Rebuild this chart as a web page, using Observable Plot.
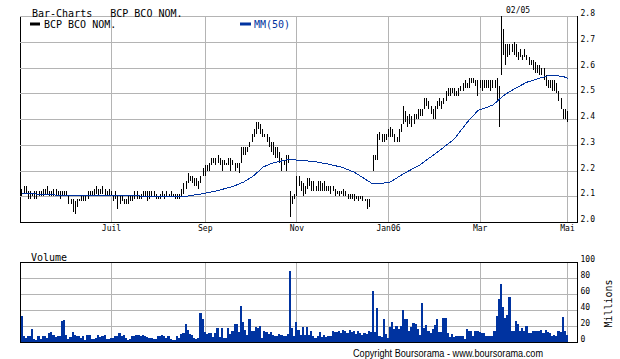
<!DOCTYPE html>
<html><head><meta charset="utf-8">
<script src="https://cdn.jsdelivr.net/npm/d3@7"></script>
<script src="https://cdn.jsdelivr.net/npm/@observablehq/plot@0.6"></script>
<style>
body{margin:0;background:#fff;}
#wrap{position:relative;width:620px;height:359px;overflow:hidden;background:#fff;}
#wrap svg{position:absolute;left:0;}
</style></head><body><div id="wrap"></div>
<script>
// ---- data ----
const high = [
2.13,2.14,2.14,2.12,2.12,2.11,2.12,2.12,2.12,2.12,
2.13,2.13,2.14,2.12,2.12,2.13,2.13,2.12,2.12,2.12,
2.12,2.12,2.10,2.09,2.09,2.08,2.09,2.09,2.10,2.10,
2.10,2.12,2.12,2.12,2.13,2.14,2.13,2.13,2.14,2.13,
2.12,2.13,2.12,2.10,2.12,2.10,2.10,2.10,2.09,2.09,
2.10,2.10,2.10,2.12,2.12,2.10,2.11,2.12,2.12,2.12,
2.12,2.12,2.12,2.11,2.10,2.11,2.12,2.11,2.12,2.11,
2.12,2.11,2.11,2.11,2.11,2.13,2.15,2.16,2.19,2.18,
2.18,2.17,2.17,2.16,2.18,2.21,2.22,
2.22,2.23,2.25,2.25,2.25,2.26,2.25,2.24,2.24,2.23,
2.25,2.25,2.24,2.23,2.23,2.23,2.29,2.29,2.29,2.29,
2.31,2.34,2.36,2.39,2.39,2.38,2.36,2.34,2.34,2.33,
2.31,2.31,2.29,2.29,2.27,2.25,2.24,2.26,2.26,
2.12,2.10,2.11,2.18,2.18,2.16,2.15,2.14,2.17,2.17,
2.16,2.16,2.14,2.16,2.16,2.15,2.16,2.14,2.14,2.14,
2.14,2.13,2.12,2.12,2.12,2.13,2.12,2.11,2.11,2.11,
2.11,2.10,2.10,2.10,2.10,2.09,2.09,2.09,
null,
2.26,2.26,2.34,2.35,2.34,2.34,2.34,2.36,2.37,2.36,
2.34,2.33,2.36,2.38,2.45,2.43,2.41,2.42,2.41,2.42,
2.42,2.44,2.44,2.44,2.48,2.48,2.47,2.45,2.44,2.45,
2.47,2.48,2.47,2.48,2.51,2.52,2.52,2.52,2.52,2.51,
2.52,2.53,2.54,2.55,2.54,2.56,2.56,2.56,2.55,2.55,
2.55,2.55,2.55,2.55,2.55,2.55,2.55,2.55,2.56,2.53,
2.80,2.75,2.69,2.69,2.69,2.69,2.70,2.69,2.66,2.67,
2.65,2.67,2.65,2.64,2.63,2.63,2.62,2.61,2.61,2.60,
2.60,2.57,2.55,2.55,2.55,2.55,2.54,2.51,2.48,2.44,
2.44,2.43
];
const low = [
2.10,2.11,2.11,2.09,2.09,2.10,2.09,2.09,2.10,2.10,
2.10,2.11,2.11,2.10,2.10,2.10,2.10,2.10,2.09,2.10,
2.10,2.10,2.07,2.07,2.04,2.03,2.06,2.08,2.08,2.08,
2.08,2.09,2.10,2.10,2.10,2.11,2.10,2.11,2.11,2.10,
2.10,2.10,2.10,2.08,2.09,2.05,2.07,2.08,2.07,2.07,
2.07,2.08,2.08,2.09,2.09,2.09,2.09,2.10,2.10,2.08,
2.09,2.10,2.10,2.09,2.09,2.09,2.10,2.09,2.10,2.10,
2.10,2.10,2.09,2.09,2.09,2.10,2.11,2.13,2.15,2.16,
2.15,2.14,2.14,2.13,2.15,2.18,2.18,
2.20,2.20,2.22,2.23,2.22,2.23,2.22,2.20,2.22,2.22,
2.22,2.20,2.22,2.20,2.21,2.19,2.23,2.26,2.26,2.27,
2.29,2.31,2.33,2.34,2.36,2.34,2.33,2.33,2.31,2.29,
2.27,2.26,2.25,2.25,2.23,2.20,2.22,2.20,2.23,
2.02,2.07,2.09,2.10,2.14,2.12,2.10,2.11,2.13,2.14,
2.12,2.12,2.12,2.12,2.12,2.12,2.12,2.12,2.12,2.11,
2.12,2.10,2.11,2.10,2.11,2.10,2.10,2.09,2.09,2.09,
2.08,2.09,2.08,2.09,2.08,2.08,2.05,2.06,
null,
2.20,2.24,2.24,2.32,2.31,2.31,2.32,2.33,2.33,2.33,
2.31,2.31,2.31,2.35,2.38,2.39,2.37,2.38,2.37,2.38,
2.40,2.40,2.41,2.41,2.44,2.45,2.44,2.42,2.40,2.40,
2.44,2.45,2.44,2.46,2.47,2.49,2.49,2.50,2.49,2.49,
2.49,2.51,2.51,2.52,2.52,2.52,2.54,2.54,2.53,2.49,
2.52,2.51,2.52,2.52,2.52,2.51,2.52,2.52,2.47,2.37,
2.57,2.65,2.61,2.64,2.65,2.66,2.65,2.64,2.63,2.64,
2.63,2.64,2.63,2.61,2.61,2.59,2.58,2.58,2.57,2.57,
2.55,2.53,2.52,2.52,2.51,2.51,2.50,2.47,2.44,2.40,
2.40,2.39
];
// volume, millions
const volume = [
32,7,5,8,8,16.5,4,3,7,4,
8,8,5,11.5,13,8.5,6,8,8,26,
28,9,4,6,13,9,8,8,5,7,
3,9,9,3.5,3.5,5,9,6,8,9,
4,4,5,5,8,7,11,7,9,5,
3,4,8,8,9,9,7,9,7,6,
5,5,3.5,3.5,8,8,9,8,5,7,
3.5,2,2,8,5,10,11.5,22,15,9.5,
8.5,5,3.5,5,36,28.5,13,10,11,11,
6,11,17,6,18,5,5,18,9.5,13.5,
22,22,13,45.6,25,15,9,29,13.5,13.5,
19,18,20,5,13.5,13,9.5,12,9,8,
8,10,9,8,8,9.5,89,18,8,25,
15,9,19,9,19,9,
13.5,8,5,8,12,6,9,6,8,8,
13.5,12,12,13.5,11,15,13.5,11,15,12,
14,10,13.5,11,9,11,10,14,12,64,
12,42,8,6,28.6,10,5,19,25,16,
20,16,20,40,29,29,14,19,24,22,
16,9,49,18,21,14,11,16,21.5,28.6,
12,12,30,30,11,6,10,6,7,7,
7,7,4,16,13.5,14,7,14,13.5,12,
11,11,7,7,7,7,14,32,53.5,72,
44,30,34,56,13.5,13.5,26,23,14,17,
14,20,11,11,13.5,13.5,13.5,13.5,15,11,
15,12,11,8,9,7,13.5,12,31,13.5,
9
];
// MM(50) moving average, read at sample trading days
const maDay = [0,12,23,38,49,66,77,85,91,99,104,109,113,118,123,125,131,137,143,150,156,160,164,168,173,179,187,196,203,209,214,221,226,231,237,242,247,251,254,256];
const maVal = [2.114,2.108,2.104,2.105,2.104,2.101,2.102,2.112,2.122,2.140,2.157,2.183,2.215,2.232,2.241,2.245,2.241,2.237,2.228,2.215,2.195,2.174,2.153,2.150,2.158,2.189,2.225,2.280,2.325,2.390,2.435,2.456,2.493,2.519,2.545,2.558,2.570,2.570,2.567,2.560];
// x-axis: trading-day index of each month label
const monthDay = [42,86,129,172,215,256];
const monthLabel = ["Juil","Sep","Nov","Jan06","Mar","Mai"];
const priceTicks = [2.0,2.1,2.2,2.3,2.4,2.5,2.6,2.7,2.8];
const volTicks = [0,20,40,60,80,100];
const dayDomain = [-0.7, 260.7];

// ---- tables ----
const bars = high.map((h,i)=>({day:i, high:h, low:low[i]})).filter(d=>d.high!=null);
const vols = volume.map((v,i)=>({x1:i-0.5, x2:i+0.5, v}));
const ma = maDay.map((d,i)=>({day:d, v:maVal[i]}));
const labelOf = new Map(monthDay.map((d,i)=>[d, monthLabel[i]]));

const GRID = "#b4b4b4", BLUE = "#0033a0";
const baseStyle = {fontFamily:"DejaVu Sans Mono", fontSize:"8px", background:"transparent", color:"black", shapeRendering:"crispEdges", overflow:"visible"};

const topChart = Plot.plot({
  width:620, height:240, marginLeft:20, marginRight:43, marginTop:16, marginBottom:18,
  style: baseStyle,
  x:{domain:dayDomain},
  y:{domain:[2.0,2.8]},
  marks:[
    Plot.frame({stroke:"black"}),
    Plot.gridY(priceTicks.slice(1), {stroke:GRID, strokeOpacity:1}),
    Plot.gridX(monthDay, {stroke:GRID, strokeOpacity:1}),
    Plot.ruleX(bars, {x:"day", y1:"low", y2:"high", stroke:"black", strokeWidth:1}),
    Plot.line(ma, {x:"day", y:"v", stroke:BLUE, strokeWidth:1}),
    Plot.axisX(monthDay, {tickSize:0, tickPadding:3, tickFormat:d=>labelOf.get(d), label:null}),
    Plot.axisY(priceTicks, {anchor:"right", tickSize:0, tickPadding:3, dy:-3, tickFormat:d=>d.toFixed(1), label:null})
  ]
});
topChart.style.top = "0px";

const volChart = Plot.plot({
  width:620, height:119, marginLeft:20, marginRight:43, marginTop:22, marginBottom:17,
  style: baseStyle,
  x:{domain:dayDomain, axis:null},
  y:{domain:[0,100]},
  marks:[
    Plot.gridY(volTicks.slice(1,-1), {stroke:GRID, strokeOpacity:1}),
    Plot.gridX(monthDay, {stroke:GRID, strokeOpacity:1}),
    Plot.rectY(vols, {x1:"x1", x2:"x2", y:"v", fill:BLUE, inset:0}),
    Plot.frame({stroke:"black"}),
    Plot.axisY(volTicks, {anchor:"right", tickSize:0, tickPadding:3, dy:-3, label:null})
  ]
});
volChart.style.top = "240px";

const wrap = document.getElementById("wrap");
wrap.appendChild(topChart);
wrap.appendChild(volChart);

// ---- texts ----
const svg = d3.select(wrap).append("svg").attr("width",620).attr("height",359).style("top","0px");
const mono = "DejaVu Sans Mono";
function txt(x,y,s,opt={}){
  return svg.append("text").attr("x",x).attr("y",y).text(s)
    .attr("font-family",opt.family||mono).attr("font-size",opt.size||10)
    .attr("fill",opt.fill||"black").attr("text-anchor",opt.anchor||"start")
    .style("white-space","pre");
}
txt(32,16.5,"Bar-Charts   BCP BCO NOM.");
svg.append("rect").attr("x",30).attr("y",22.5).attr("width",10).attr("height",3).attr("fill","black");
txt(44,28,"BCP BCO NOM.");
svg.append("rect").attr("x",240).attr("y",22.5).attr("width",11).attr("height",3).attr("fill",BLUE);
txt(254,28,"MM(50)",{fill:BLUE});
txt(506,12.5,"02/05",{size:8});
txt(31,260.5,"Volume");
txt(0,0,"Millions").attr("text-anchor","middle").attr("dominant-baseline","central")
  .attr("transform","translate(608.5,303.5) rotate(-90)");
txt(448,356.5,"Copyright Boursorama - www.boursorama.com",{family:"Liberation Sans", size:10, anchor:"middle"})
  .attr("textLength",190).attr("lengthAdjust","spacingAndGlyphs");
</script>
</body></html>
